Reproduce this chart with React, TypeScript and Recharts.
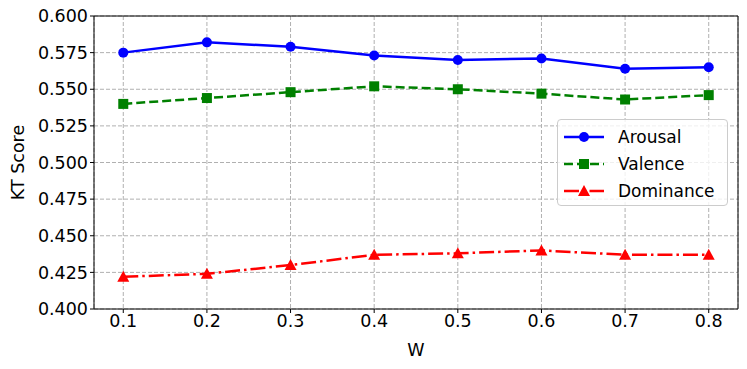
import React from 'react';
import { LineChart, Line, XAxis, YAxis, CartesianGrid, ReferenceLine } from 'recharts';

const weights = [0.1, 0.2, 0.3, 0.4, 0.5, 0.6, 0.7, 0.8];
const arousal = [0.575, 0.582, 0.579, 0.573, 0.570, 0.571, 0.564, 0.565];
const valence = [0.540, 0.544, 0.548, 0.552, 0.550, 0.547, 0.543, 0.546];
const dominance = [0.422, 0.424, 0.430, 0.437, 0.438, 0.440, 0.437, 0.437];
const yTicks = [0.4, 0.425, 0.45, 0.475, 0.5, 0.525, 0.55, 0.575, 0.6];

const FONT = '"DejaVu Sans", sans-serif';

const data = weights.map((w, i) => ({
    w,
    arousal: arousal[i],
    valence: valence[i],
    dominance: dominance[i],
}));

const CircleDot = (props: any) => {
    const { cx, cy } = props;
    if (cx == null || cy == null) return null;
    return <circle key={`c${cx}`} cx={cx} cy={cy} r={5} fill="#0000ff" />;
};

const SquareDot = (props: any) => {
    const { cx, cy } = props;
    if (cx == null || cy == null) return null;
    return <rect key={`s${cx}`} x={cx - 5} y={cy - 5} width={10} height={10} fill="#008000" />;
};

const TriangleDot = (props: any) => {
    const { cx, cy } = props;
    if (cx == null || cy == null) return null;
    return <polygon key={`t${cx}`} points={`${cx},${cy - 6} ${cx - 6},${cy + 5} ${cx + 6},${cy + 5}`} fill="#ff0000" />;
};

const legendItems = [
    { name: 'Arousal', color: '#0000ff', dash: undefined, marker: 'circle' },
    { name: 'Valence', color: '#008000', dash: '9 4', marker: 'square' },
    { name: 'Dominance', color: '#ff0000', dash: '15 4 2.5 4', marker: 'triangle' },
];

// legend drawn as an overlay so it doesn't shrink the plot area
const LegendBox = () => (
    <div style={{
        position: 'absolute',
        left: 557,
        top: 119,
        width: 171,
        height: 87,
        boxSizing: 'border-box',
        border: '1px solid #cccccc',
        borderRadius: 4,
        background: 'rgba(255,255,255,0.8)',
        padding: '3px 0 0 6px',
        fontFamily: FONT,
        fontSize: 17,
        color: '#000',
    }}>
        {legendItems.map(item => (
            <div key={item.name} style={{ display: 'flex', alignItems: 'center', height: 27 }}>
                <svg width={40} height={14} style={{ marginRight: 14 }}>
                    <line x1={0} y1={7} x2={40} y2={7} stroke={item.color} strokeWidth={2.5} strokeDasharray={item.dash} />
                    {item.marker === 'circle' && <circle cx={20} cy={7} r={5} fill={item.color} />}
                    {item.marker === 'square' && <rect x={15} y={2} width={10} height={10} fill={item.color} />}
                    {item.marker === 'triangle' && <polygon points="20,1 14,12 26,12" fill={item.color} />}
                </svg>
                <span>{item.name}</span>
            </div>
        ))}
    </div>
);

const App: React.FC = () => {
    return (
        <div style={{ position: 'absolute', left: 0, top: 0, width: 747, height: 369, background: '#fff' }}>
            <LineChart width={747} height={369} data={data} margin={{ top: 16, right: 9, left: 14, bottom: 20 }}>
                <CartesianGrid stroke="#b0b0b0" strokeDasharray="4 2" />
                <XAxis
                    dataKey="w"
                    type="number"
                    domain={[0.065, 0.835]}
                    ticks={weights}
                    allowDataOverflow
                    tickFormatter={(v: number) => v.toFixed(1)}
                    stroke="#000"
                    tick={{ fill: '#000', fontSize: 17.5, fontFamily: FONT }}
                    tickSize={4}
                    height={40}
                    label={{ value: 'W', position: 'insideBottom', offset: -7, fill: '#000', fontSize: 17.5, fontFamily: FONT }}
                />
                <YAxis
                    type="number"
                    domain={[0.4, 0.6]}
                    ticks={yTicks}
                    allowDataOverflow
                    tickFormatter={(v: number) => v.toFixed(3)}
                    stroke="#000"
                    tick={{ fill: '#000', fontSize: 17.5, fontFamily: FONT }}
                    tickSize={4}
                    width={80}
                    label={{ value: 'KT Score', angle: -90, position: 'insideLeft', offset: 4, fill: '#000', fontSize: 17.5, fontFamily: FONT, style: { textAnchor: 'middle' } }}
                />
                <ReferenceLine y={0.6} stroke="#000" strokeWidth={1} />
                <ReferenceLine x={0.835} stroke="#000" strokeWidth={1} />
                <Line dataKey="arousal" name="Arousal" stroke="#0000ff" strokeWidth={2.5} dot={<CircleDot />} activeDot={false} isAnimationActive={false} />
                <Line dataKey="valence" name="Valence" stroke="#008000" strokeWidth={2.5} strokeDasharray="9 4" dot={<SquareDot />} activeDot={false} isAnimationActive={false} />
                <Line dataKey="dominance" name="Dominance" stroke="#ff0000" strokeWidth={2.5} strokeDasharray="15 4 2.5 4" dot={<TriangleDot />} activeDot={false} isAnimationActive={false} />
            </LineChart>
            <LegendBox />
        </div>
    );
};

export default App;
